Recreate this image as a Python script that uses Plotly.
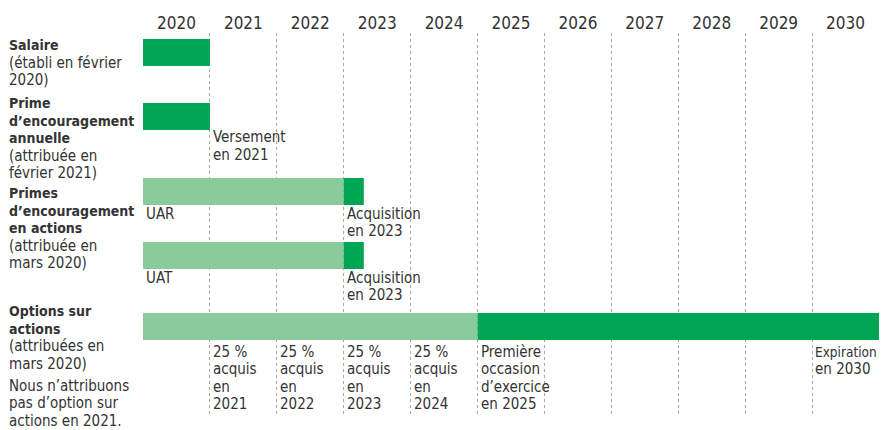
import plotly.graph_objects as go

# ---------------- data ----------------
years = ["2020", "2021", "2022", "2023", "2024", "2025", "2026", "2027", "2028", "2029", "2030"]
year_start = 2020
year_end = 2031

rows = ["Salaire", "Prime annuelle", "UAR", "UAT", "Options"]
light_start = [None, None, 2020, 2020, 2020]
light_end = [None, None, 2023, 2023, 2025]
dark_start = [2020, 2020, 2023, 2023, 2025]
dark_end = [2021, 2021, 2023.3, 2023.3, 2031]

label_blocks = [
    [("Salaire", True), ("(établi en février", False), ("2020)", False)],
    [("Prime", True), ("d’encouragement", True), ("annuelle", True), ("(attribuée en", False), ("février 2021)", False)],
    [("Primes", True), ("d’encouragement", True), ("en actions", True), ("(attribuée en", False), ("mars 2020)", False)],
    [("Options sur", True), ("actions", True), ("(attribuées en", False), ("mars 2020)", False)],
    [("Nous n’attribuons", False), ("pas d’option sur", False), ("actions en 2021.", False)],
]

notes = [
    (2021, "Prime annuelle", ["Versement", "en 2021"]),
    (2020, "UAR", ["UAR"]),
    (2023, "UAR", ["Acquisition", "en 2023"]),
    (2020, "UAT", ["UAT"]),
    (2023, "UAT", ["Acquisition", "en 2023"]),
    (2021, "Options", ["25 %", "acquis", "en", "2021"]),
    (2022, "Options", ["25 %", "acquis", "en", "2022"]),
    (2023, "Options", ["25 %", "acquis", "en", "2023"]),
    (2024, "Options", ["25 %", "acquis", "en", "2024"]),
    (2025, "Options", ["Première", "occasion", "d’exercice", "en 2025"]),
    (2030, "Options", ["Expiration", "en 2030"]),
]

# ---------------- layout / style ----------------
W, H = 881, 430
M_L, M_R, M_T, M_B = 143, 2, 33, 15
row_y = {"Salaire": 52.5, "Prime annuelle": 116.5, "UAR": 191.5, "UAT": 255.5, "Options": 326.5}
bar_w = 27
block_top = [45, 103, 193, 311, 385.5]
line_step = 17.6
note_offset = {"Prime annuelle": 7, "UAR": 8.5, "UAT": 8.5, "Options": 11.5}
DARK = "#00A651"
LIGHT = "#8ACB9B"
TXT = "#333333"
FONT = "Liberation Sans Narrow, DejaVu Sans Condensed, Arial Narrow, sans-serif"
FS = 15
FS_BOLD = 14
Y_MAX = H - M_B - 1

fig = go.Figure()

ly, lx, lb = [], [], []
for r, s, e in zip(rows, light_start, light_end):
    if s is not None:
        ly.append(row_y[r]); lb.append(s); lx.append(e - s)
fig.add_trace(go.Bar(y=ly, x=lx, base=lb, orientation="h", width=bar_w,
                     marker=dict(color=LIGHT, line=dict(width=0)), hoverinfo="skip"))

dy, dx, db = [], [], []
for r, s, e in zip(rows, dark_start, dark_end):
    dy.append(row_y[r]); db.append(s); dx.append(e - s)
fig.add_trace(go.Bar(y=dy, x=dx, base=db, orientation="h", width=bar_w,
                     marker=dict(color=DARK, line=dict(width=0)), hoverinfo="skip"))

# invisible trace on top axis for year labels
fig.add_trace(go.Scatter(x=[year_start, year_end], y=[row_y["Salaire"]] * 2, xaxis="x2",
                         mode="markers", marker=dict(opacity=0), hoverinfo="skip"))


def ypos(p):
    yy = min(p, Y_MAX)
    return yy, -(p - yy)


annotations = []
for top, block in zip(block_top, label_blocks):
    for i, (txt, bold) in enumerate(block):
        yy, ys = ypos(top + i * line_step)
        annotations.append(dict(
            x=0, xref="paper", xshift=-(M_L - 7), y=yy, yshift=ys, yref="y",
            text=f"<b>{txt}</b>" if bold else txt, showarrow=False,
            xanchor="left", yanchor="middle",
            font=dict(family=FONT, size=FS_BOLD if bold else FS, color=TXT)))

for xs, r, lines in notes:
    y0 = row_y[r] + bar_w / 2 + note_offset[r]
    for i, txt in enumerate(lines):
        yy, ys = ypos(y0 + i * line_step)
        annotations.append(dict(
            x=xs, xref="x", y=yy, yshift=ys, yref="y", text=txt,
            showarrow=False, xanchor="left", yanchor="middle", xshift=1,
            font=dict(family=FONT, size=FS if txt != "Expiration" else 13.5, color=TXT)))

tickmids = [year_start + 0.5 + i for i in range(len(years))]

fig.update_layout(
    width=W, height=H,
    margin=dict(l=M_L, r=M_R, t=M_T, b=M_B),
    paper_bgcolor="white", plot_bgcolor="white",
    showlegend=False, barmode="overlay",
    xaxis=dict(range=[year_start, year_end], tickvals=list(range(year_start, year_end + 1)),
               showticklabels=False, showgrid=True, gridcolor="#a8a8a8", gridwidth=1,
               griddash="3px,3px", zeroline=False, showline=False, ticks=""),
    xaxis2=dict(range=[year_start, year_end], overlaying="x", side="top",
                tickvals=tickmids, ticktext=years, showgrid=False, zeroline=False,
                showline=False, ticks="", ticklen=0,
                tickfont=dict(family=FONT, size=17, color=TXT)),
    yaxis=dict(range=[H - M_B, M_T], visible=False, showgrid=False, zeroline=False),
    annotations=annotations,
)

fig.write_html("out.html", config={"displayModeBar": False},
               post_script="document.body.style.margin='0';document.body.style.padding='0';")
